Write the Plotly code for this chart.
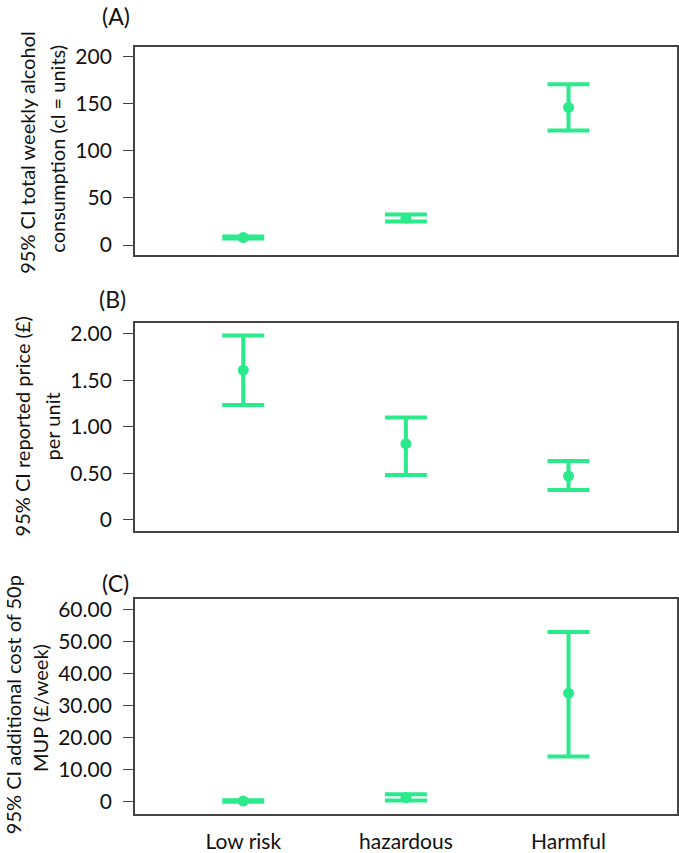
import plotly.graph_objects as go

W, H = 679, 853

categories = ["Low risk", "hazardous", "Harmful"]

# (A) total weekly alcohol consumption (units)
consumption_mean = [8.0, 28.5, 146.0]
consumption_low = [7.0, 24.9, 121.5]
consumption_high = [9.0, 32.3, 170.5]

# (B) reported price per unit (£)
price_mean = [1.607, 0.817, 0.469]
price_low = [1.233, 0.48, 0.32]
price_high = [1.98, 1.098, 0.632]

# (C) additional cost of 50p MUP (£/week)
cost_mean = [0.2, 1.3, 33.9]
cost_low = [0.0, 0.35, 14.1]
cost_high = [0.5, 2.35, 53.0]

ticks_a = [0, 50, 100, 150, 200]
ticks_a_text = ["0", "50", "100", "150", "200"]
ticks_b = [0, 0.5, 1.0, 1.5, 2.0]
ticks_b_text = ["0", "0.50", "1.00", "1.50", "2.00"]
ticks_c = [0, 10, 20, 30, 40, 50, 60]
ticks_c_text = ["0", "10.00", "20.00", "30.00", "40.00", "50.00", "60.00"]

GREEN = "#2BEA8C"
FONT = "Lato"
TXT = "#111111"
FRAME = "#444444"

def px_x(p):
    return p / W

def px_y(p):
    return 1 - p / H

fig = go.Figure()

panels = [
    (consumption_mean, consumption_low, consumption_high, "x", "y"),
    (price_mean, price_low, price_high, "x2", "y2"),
    (cost_mean, cost_low, cost_high, "x3", "y3"),
]
for mean, lo, hi, xa, ya in panels:
    fig.add_trace(go.Scatter(
        x=categories, y=mean, mode="markers",
        marker=dict(color=GREEN, size=11),
        error_y=dict(type="data", symmetric=False,
                     array=[h - m for h, m in zip(hi, mean)],
                     arrayminus=[m - l for m, l in zip(mean, lo)],
                     color=GREEN, thickness=4, width=21),
        xaxis=xa, yaxis=ya, showlegend=False, hoverinfo="skip",
    ))

xdom = [px_x(135), px_x(678)]
doms = [(43, 253), (321.7, 531.7), (600, 816.7)]
yranges = [[-10.5, 210.5], [-0.125, 2.114], [-3.83, 63.3]]
yticks = [(ticks_a, ticks_a_text), (ticks_b, ticks_b_text), (ticks_c, ticks_c_text)]

layout = dict(
    width=W, height=H, margin=dict(l=0, r=0, t=0, b=0),
    paper_bgcolor="white", plot_bgcolor="white",
    font=dict(family=FONT, size=21, color=TXT),
)
for i, ((top, bot), yr, (tv, tt)) in enumerate(zip(doms, yranges, yticks)):
    sfx = "" if i == 0 else str(i + 1)
    layout["xaxis" + sfx] = dict(
        domain=xdom, anchor="y" + sfx, type="category",
        categoryorder="array", categoryarray=categories,
        range=[-0.667, 2.667], showline=True, mirror=True,
        linecolor=FRAME, linewidth=1.5, showgrid=False, zeroline=False,
        ticks="", showticklabels=(i == 2), ticklabelstandoff=8,
        tickfont=dict(family=FONT, size=21, color=TXT),
    )
    layout["yaxis" + sfx] = dict(
        domain=[px_y(bot), px_y(top)], anchor="x" + sfx, range=yr,
        tickvals=tv, ticktext=tt, ticks="outside", ticklen=10,
        tickcolor=FRAME, tickwidth=1.2, showline=True, mirror=True,
        linecolor=FRAME, linewidth=1.5, showgrid=False, zeroline=False,
        ticklabelstandoff=7,
        tickfont=dict(family=FONT, size=21, color=TXT),
    )
fig.update_layout(**layout)

def ann(text, xp, yp, size, angle=0):
    fig.add_annotation(text=text, x=px_x(xp), y=px_y(yp), xref="paper", yref="paper",
                       xanchor="center", yanchor="middle", showarrow=False,
                       textangle=angle, font=dict(family=FONT, size=size, color=TXT))

ann("(A)", 116, 12, 23)
ann("(B)", 113, 297, 23)
ann("(C)", 116, 584, 23)

ann("95% CI total weekly alcohol", 27, 150, 20, -90)
ann("consumption (cl = units)", 57, 146, 20, -90)
ann("95% CI reported price (£)", 22, 426, 20, -90)
ann("per unit", 52, 426, 20, -90)
ann("95% CI additional cost of 50p", 13, 706, 20, -90)
ann("MUP (£/week)", 40, 710, 20, -90)

fig.write_html("out.html", config={"displayModeBar": False},
               post_script="document.body.style.margin='0px';document.body.style.overflow='hidden';")
